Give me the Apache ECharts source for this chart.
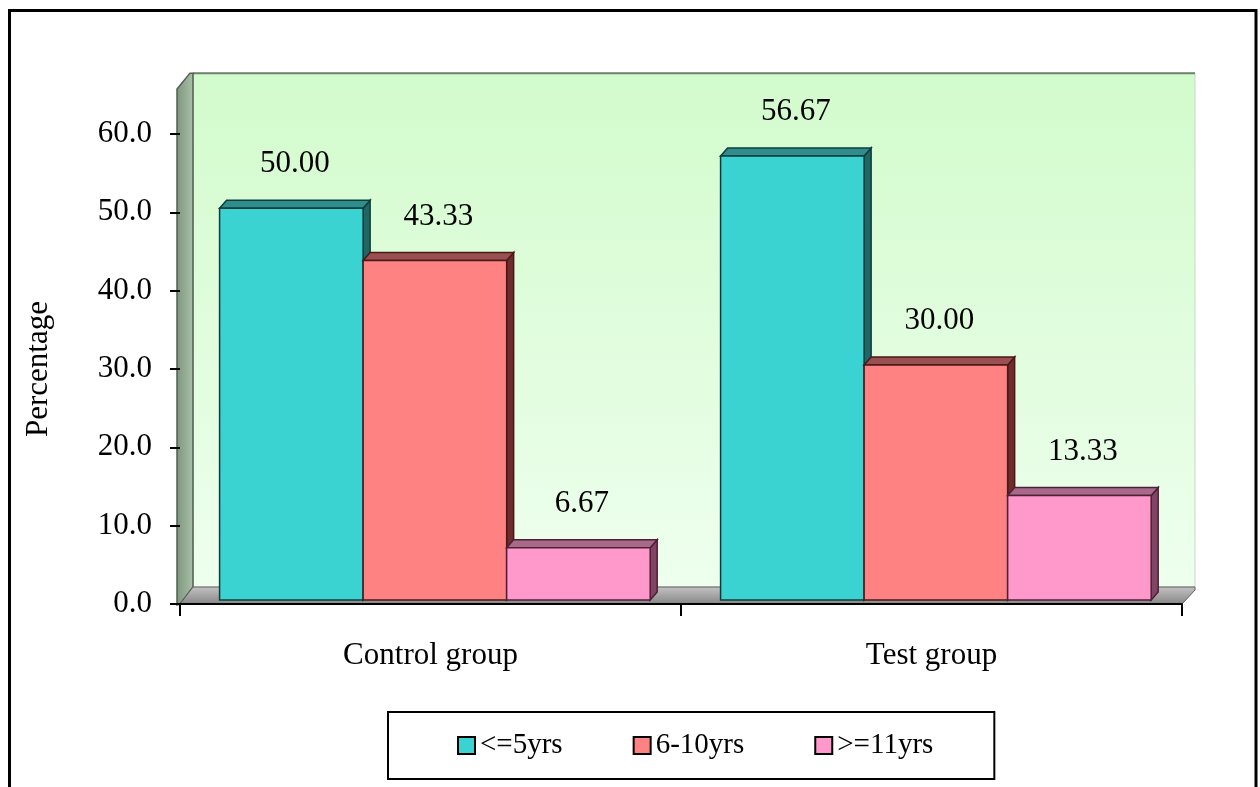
<!DOCTYPE html>
<html>
<head>
<meta charset="utf-8">
<title>Percentage by years</title>
<script src="https://cdn.jsdelivr.net/npm/echarts@6/dist/echarts.min.js"></script>
<style>
  html, body { margin: 0; padding: 0; background: #fff; }
  #chart { width: 1260px; height: 787px; }
</style>
</head>
<body>
<div id="chart"></div>
<script>
// Chart data
const categories = ['Control group', 'Test group'];
const seriesNames = ['<=5yrs', '6-10yrs', '>=11yrs'];
const upTo5Years = [50.00, 56.67];
const sixTo10Years = [43.33, 30.00];
const over11Years = [6.67, 13.33];
const yTickValues = [0, 10, 20, 30, 40, 50, 60];

// Styling for the pseudo-3D look
const FONT = '"Liberation Serif", "Times New Roman", serif';
const DEPTH_X = 13, DEPTH_Y = 17;      // floor / wall depth
const BAR_DX = 7, BAR_DY = 8;          // bar depth
const BAR_LIFT = 4;                    // bars sit slightly behind the front edge
const BAR_OFFSET = 0.079, BAR_FRAC = 0.2865;
const WALL_TOP = 65.6;                 // wall height in axis units

const faces = [
  { front: '#3AD3D2', top: '#2F8E8B', side: '#1F6664', edge: '#0F3D3C' },
  { front: '#FF8282', top: '#9A5050', side: '#6E2C2C', edge: '#4A1818' },
  { front: '#FF99CC', top: '#A86A88', side: '#824465', edge: '#4E2038' }
];
const valueSets = [upTo5Years, sixTo10Years, over11Years];

const chart = echarts.init(document.getElementById('chart'), null, { renderer: 'canvas' });

function wallRenderer(params, api) {
  const w = api.size([1, 0])[0];
  const xL = api.coord([0, 0])[0] - w / 2;
  const xR = api.coord([categories.length - 1, 0])[0] + w / 2;
  const y0 = api.coord([0, 0])[1];
  const yT = api.coord([0, WALL_TOP])[1];
  return {
    type: 'group',
    children: [
      { // back wall
        type: 'rect',
        shape: { x: xL + DEPTH_X, y: yT - DEPTH_Y, width: xR - xL, height: y0 - yT },
        style: {
          fill: new echarts.graphic.LinearGradient(0, 0, 0, 1, [
            { offset: 0, color: '#D2FBCC' },
            { offset: 1, color: '#EEFFEE' }
          ]),
          stroke: '#C9D6C9', lineWidth: 1
        }
      },
      { // top edge of the back wall
        type: 'line',
        shape: { x1: xL + DEPTH_X, y1: yT - DEPTH_Y, x2: xR + DEPTH_X, y2: yT - DEPTH_Y },
        style: { stroke: '#6E806E', lineWidth: 2 }
      },
      { // left side wall
        type: 'polygon',
        shape: { points: [
          [xL - 3, y0 + 1], [xL - 3, yT - 1], [xL + DEPTH_X - 3, yT - DEPTH_Y],
          [xL + DEPTH_X, yT - DEPTH_Y], [xL + DEPTH_X, y0 - DEPTH_Y], [xL, y0]
        ] },
        style: {
          fill: new echarts.graphic.LinearGradient(0, 0, 1, 0, [
            { offset: 0, color: '#7D957D' },
            { offset: 1, color: '#A9C2A9' }
          ]),
          stroke: '#4F5F4F', lineWidth: 1.5
        }
      },
      { // floor
        type: 'polygon',
        shape: { points: [
          [xL, y0], [xR, y0], [xR + DEPTH_X, y0 - DEPTH_Y + 3],
          [xR + DEPTH_X, y0 - DEPTH_Y], [xL + DEPTH_X, y0 - DEPTH_Y]
        ] },
        style: {
          fill: new echarts.graphic.LinearGradient(0, 0, 0, 1, [
            { offset: 0, color: '#C4C4C4' },
            { offset: 1, color: '#858585' }
          ]),
          stroke: '#5E5E5E', lineWidth: 1
        }
      }
    ]
  };
}

function barRenderer(idx) {
  const f = faces[idx];
  return function (params, api) {
    const cat = api.value(0);
    const v = api.value(1);
    const c = api.coord([cat, v]);
    const c0 = api.coord([cat, 0]);
    const w = api.size([1, 0])[0];
    const x = c[0] - w / 2 + BAR_OFFSET * w + idx * BAR_FRAC * w;
    const bw = BAR_FRAC * w;
    const yTop = c[1] - BAR_LIFT;
    const yBot = c0[1] - BAR_LIFT;
    return {
      type: 'group',
      children: [
        { // side face
          type: 'polygon',
          shape: { points: [[x + bw, yTop], [x + bw + BAR_DX, yTop - BAR_DY],
                            [x + bw + BAR_DX, yBot - BAR_DY], [x + bw, yBot]] },
          style: { fill: f.side, stroke: f.edge, lineWidth: 1.5 }
        },
        { // top face
          type: 'polygon',
          shape: { points: [[x, yTop], [x + BAR_DX, yTop - BAR_DY],
                            [x + bw + BAR_DX, yTop - BAR_DY], [x + bw, yTop]] },
          style: { fill: f.top, stroke: f.edge, lineWidth: 1.5 }
        },
        { // front face
          type: 'rect',
          shape: { x: x, y: yTop, width: bw, height: yBot - yTop },
          style: { fill: f.front, stroke: f.edge, lineWidth: 1.5 }
        },
        { // value label
          type: 'text',
          style: {
            text: v.toFixed(2),
            x: x + bw / 2 + BAR_DX / 2,
            y: yTop - 44,
            align: 'center',
            verticalAlign: 'middle',
            font: '31px ' + FONT,
            fill: '#000'
          }
        }
      ]
    };
  };
}

const barSeries = seriesNames.map(function (name, idx) {
  return {
    name: name,
    type: 'custom',
    z: 5,
    renderItem: barRenderer(idx),
    encode: { x: 0, y: 1 },
    itemStyle: { color: faces[idx].front },
    data: valueSets[idx].map(function (v, i) { return [i, v]; })
  };
});

const option = {
  animation: false,
  backgroundColor: '#fff',
  grid: { left: 180, right: 78, top: 134, bottom: 183 },
  xAxis: {
    type: 'category',
    data: categories,
    z: 10,
    axisLine: { show: true, lineStyle: { color: '#000', width: 2 } },
    axisTick: { show: true, length: 12, alignWithLabel: false, lineStyle: { color: '#000', width: 2 } },
    axisLabel: { margin: 36, fontSize: 31, fontFamily: FONT, color: '#000' },
    splitLine: { show: false }
  },
  yAxis: {
    type: 'value',
    min: yTickValues[0],
    max: yTickValues[yTickValues.length - 1],
    interval: 10,
    z: 10,
    name: 'Percentage',
    nameLocation: 'middle',
    nameRotate: 90,
    nameGap: 126,
    nameTextStyle: { fontSize: 31, fontFamily: FONT, color: '#000' },
    axisLine: { show: false },
    axisTick: { show: true, inside: false, length: 10, lineStyle: { color: '#000', width: 2 } },
    axisLabel: {
      margin: 28, fontSize: 31, fontFamily: FONT, color: '#000',
      formatter: function (v) { return v.toFixed(1); }
    },
    splitLine: { show: false }
  },
  legend: {
    data: seriesNames.map(function (n, i) {
      return { name: n, icon: 'rect', itemStyle: { color: faces[i].front, borderColor: '#000', borderWidth: 2 } };
    }),
    left: 388,
    top: 712,
    orient: 'horizontal',
    itemWidth: 17,
    itemHeight: 17,
    itemGap: 70,
    padding: [19, 61, 19, 69],
    borderColor: '#000',
    borderWidth: 2,
    backgroundColor: '#fff',
    selectedMode: false,
    textStyle: { fontSize: 29, fontFamily: FONT, color: '#000' }
  },
  graphic: [{
    type: 'rect',
    z: 100,
    silent: true,
    shape: { x: 9.5, y: 10.5, width: 1246.5, height: 800 },
    style: { fill: 'none', stroke: '#000', lineWidth: 3 }
  }],
  series: [{
    name: 'wall',
    type: 'custom',
    z: 1,
    silent: true,
    renderItem: wallRenderer,
    encode: { x: 0, y: 1 },
    data: [[0, 0]]
  }].concat(barSeries)
};

chart.setOption(option);
</script>
</body>
</html>
